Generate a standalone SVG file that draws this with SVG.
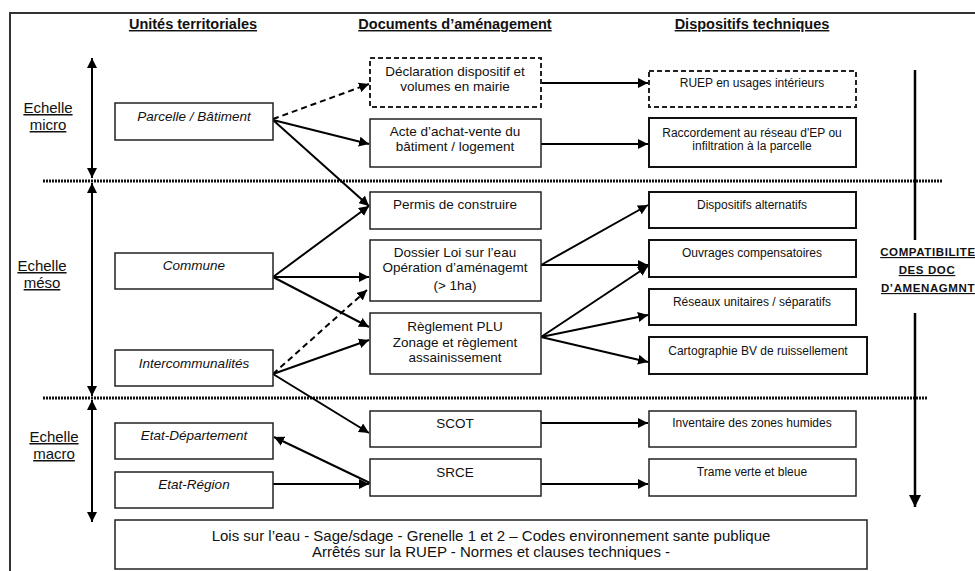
<svg xmlns="http://www.w3.org/2000/svg" width="975" height="571" viewBox="0 0 975 571">
<defs>
<marker id="ah" viewBox="0 0 10 10" refX="10" refY="5" markerWidth="5" markerHeight="5" orient="auto-start-reverse" markerUnits="strokeWidth">
<path d="M0,0 L10,5 L0,10 z" fill="#000"/>
</marker>
<style>
text{font-family:"Liberation Sans",Arial,sans-serif;fill:#111}
.hd{font-size:14.5px;font-weight:bold;text-decoration:underline;text-anchor:middle}
.sc{font-size:15px;text-decoration:underline;text-anchor:middle}
.box{fill:#fff;stroke:#222;stroke-width:1.5}
.dbox{fill:#fff;stroke:#222;stroke-width:2;stroke-dasharray:5 3}
.rbox{fill:#fff;stroke:#111;stroke-width:2}
.t{font-size:13.5px;text-anchor:middle}
.ti{font-size:13.5px;font-style:italic;text-anchor:middle}
.ts{font-size:12px;text-anchor:middle}
.cp{font-size:11.5px;font-weight:bold;text-decoration:underline;text-anchor:middle;letter-spacing:0.6px}
.c{stroke:#000;stroke-width:2;fill:none;marker-end:url(#ah)}
.cd{stroke:#000;stroke-width:2;fill:none;stroke-dasharray:6 4;marker-end:url(#ah)}
.dot{stroke:#111;stroke-width:3;stroke-dasharray:2 1;fill:none}
.va{stroke:#000;stroke-width:2;fill:none;marker-start:url(#ah);marker-end:url(#ah)}
</style>
</defs>
<rect x="0" y="0" width="975" height="571" fill="#fff"/>
<rect x="10" y="13" width="1000" height="620" fill="none" stroke="#333" stroke-width="2"/>

<g id="headers">
<text class="hd" x="193" y="29">Unités territoriales</text>
<text class="hd" x="455" y="29">Documents d’aménagement</text>
<text class="hd" x="752" y="29">Dispositifs techniques</text>
</g>

<g id="scales">
<line class="dot" x1="43" y1="181" x2="942" y2="181"/>
<line class="dot" x1="43" y1="398" x2="928" y2="398"/>
<line class="va" x1="92" y1="58" x2="92" y2="178"/>
<line class="va" x1="92" y1="183" x2="92" y2="396"/>
<line class="va" x1="92" y1="400" x2="92" y2="522"/>
<text class="sc" x="48" y="113">Echelle</text>
<text class="sc" x="48" y="130">micro</text>
<text class="sc" x="42" y="271">Echelle</text>
<text class="sc" x="42" y="288">méso</text>
<text class="sc" x="54" y="442">Echelle</text>
<text class="sc" x="54" y="459">macro</text>
</g>

<g id="compatibilite">
<line x1="915" y1="70" x2="915" y2="240" stroke="#000" stroke-width="2.5"/>
<line x1="915" y1="313" x2="915" y2="507" stroke="#000" stroke-width="2.5" marker-end="url(#ah)"/>
<text class="cp" x="928" y="256">COMPATIBILITE</text>
<text class="cp" x="927" y="274">DES DOC</text>
<text class="cp" x="928" y="292">D’AMENAGMNT</text>
</g>

<g id="connectors">
<line class="cd" x1="273" y1="119" x2="369" y2="84"/>
<line class="c" x1="273" y1="120" x2="369" y2="144"/>
<line class="c" x1="273" y1="120" x2="369" y2="206"/>
<line class="c" x1="541" y1="83" x2="648" y2="83"/>
<line class="c" x1="541" y1="144" x2="648" y2="144"/>
<line class="c" x1="273" y1="277" x2="369" y2="206"/>
<line class="c" x1="273" y1="277" x2="369" y2="277"/>
<line class="c" x1="273" y1="277" x2="369" y2="327"/>
<line class="cd" x1="273" y1="374" x2="367" y2="290"/>
<line class="c" x1="273" y1="374" x2="369" y2="340"/>
<line class="c" x1="273" y1="374" x2="369" y2="433"/>
<line class="c" x1="541" y1="265" x2="648" y2="205"/>
<line class="c" x1="541" y1="265" x2="648" y2="265"/>
<line class="c" x1="541" y1="337" x2="648" y2="266"/>
<line class="c" x1="541" y1="337" x2="648" y2="315"/>
<line class="c" x1="541" y1="337" x2="648" y2="362"/>
<line class="c" x1="541" y1="423" x2="648" y2="423"/>
<line class="c" x1="541" y1="484" x2="648" y2="484"/>
<line class="c" x1="370" y1="483" x2="274" y2="437"/>
<line class="c" x1="273" y1="484" x2="369" y2="484"/>
</g>

<g id="parcelle"><rect class="box" x="115" y="103" width="158" height="37"/><text class="ti" x="194" y="121">Parcelle / Bâtiment</text></g>
<g id="commune"><rect class="box" x="115" y="253" width="158" height="36"/><text class="ti" x="194" y="270">Commune</text></g>
<g id="intercommunalites"><rect class="box" x="115" y="350" width="158" height="36"/><text class="ti" x="194" y="368">Intercommunalités</text></g>
<g id="etat-departement"><rect class="box" x="115" y="423" width="158" height="36"/><text class="ti" x="194" y="440">Etat-Département</text></g>
<g id="etat-region"><rect class="box" x="115" y="472" width="158" height="36"/><text class="ti" x="194" y="489">Etat-Région</text></g>

<g id="declaration"><rect class="dbox" x="370" y="58" width="171" height="49"/><text class="t" x="455" y="76">Déclaration dispositif et</text><text class="t" x="455" y="91">volumes en mairie</text></g>
<g id="acte"><rect class="box" x="370" y="119" width="171" height="48"/><text class="t" x="455" y="136">Acte d’achat-vente du</text><text class="t" x="455" y="151">bâtiment / logement</text></g>
<g id="permis"><rect class="box" x="370" y="192" width="171" height="37"/><text class="t" x="455" y="209">Permis de construire</text></g>
<g id="dossier"><rect class="box" x="370" y="240" width="171" height="61"/><text class="t" x="455" y="257">Dossier Loi sur l’eau</text><text class="t" x="455" y="272">Opération d’aménagemt</text><text class="t" x="455" y="290">(&gt; 1ha)</text></g>
<g id="reglement"><rect class="box" x="370" y="313" width="171" height="61"/><text class="t" x="455" y="331">Règlement PLU</text><text class="t" x="455" y="347">Zonage et règlement</text><text class="t" x="455" y="362">assainissement</text></g>
<g id="scot"><rect class="box" x="370" y="411" width="171" height="36"/><text class="t" x="455" y="428">SCOT</text></g>
<g id="srce"><rect class="box" x="370" y="459" width="171" height="37"/><text class="t" x="455" y="477">SRCE</text></g>

<g id="ruep"><rect class="dbox" x="649" y="71" width="207" height="36"/><text class="ts" x="752" y="87">RUEP en usages intérieurs</text></g>
<g id="raccordement"><rect class="rbox" x="649" y="118" width="207" height="49"/><text class="ts" x="752" y="137">Raccordement au réseau d'EP ou</text><text class="ts" x="752" y="150">infiltration à la parcelle</text></g>
<g id="alternatifs"><rect class="rbox" x="649" y="192" width="207" height="36"/><text class="ts" x="752" y="209">Dispositifs alternatifs</text></g>
<g id="ouvrages"><rect class="rbox" x="649" y="240" width="207" height="37"/><text class="ts" x="752" y="257">Ouvrages compensatoires</text></g>
<g id="reseaux"><rect class="rbox" x="649" y="289" width="207" height="36"/><text class="ts" x="752" y="306">Réseaux unitaires / séparatifs</text></g>
<g id="cartographie"><rect class="rbox" x="649" y="337" width="218" height="37"/><text class="ts" x="758" y="355">Cartographie BV  de ruissellement</text></g>
<g id="inventaire"><rect class="box" x="649" y="411" width="207" height="36"/><text class="ts" x="752" y="427">Inventaire des zones humides</text></g>
<g id="trame"><rect class="box" x="649" y="459" width="207" height="37"/><text class="ts" x="752" y="476">Trame verte et bleue</text></g>

<g id="lois"><rect class="box" x="115" y="520" width="752" height="49"/>
<text x="491" y="541" style="font-size:15px;text-anchor:middle">Lois sur l’eau - Sage/sdage - Grenelle 1 et 2 – Codes environnement sante publique</text>
<text x="491" y="557" style="font-size:15px;text-anchor:middle">Arrêtés sur la  RUEP - Normes et clauses techniques -</text></g>
</svg>
